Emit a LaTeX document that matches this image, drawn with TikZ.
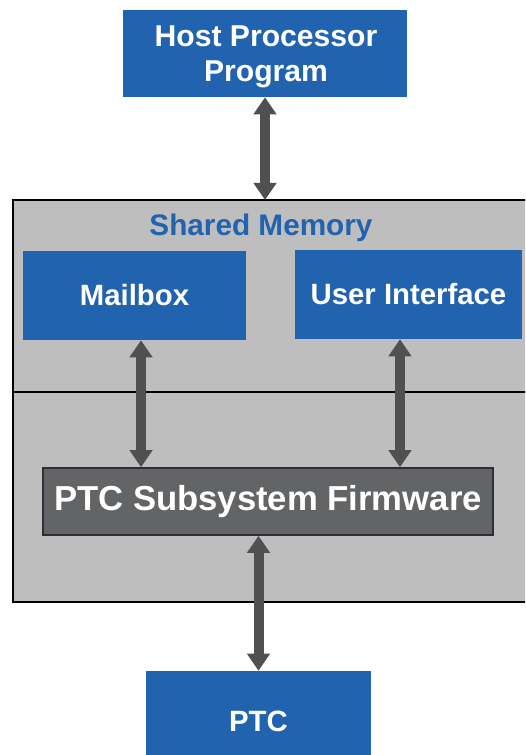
\documentclass[tikz,border=0pt]{standalone}
\usepackage{fontspec}
\setmainfont{Liberation Sans}
\usetikzlibrary{arrows.meta}
\definecolor{boxblue}{HTML}{2163AE}
\definecolor{memgray}{HTML}{BEBEBE}
\definecolor{fwgray}{HTML}{636466}
\definecolor{fwedge}{HTML}{2E2E38}
\definecolor{arrowgray}{HTML}{505050}
\tikzstyle{bluebox}=[fill=boxblue,text=white,inner sep=0pt,align=center,
font=\fontsize{22}{26}\selectfont\bfseries]
\tikzstyle{fwbox}=[fill=fwgray,draw=fwedge,line width=1.2pt,text=white,inner sep=0pt,
font=\fontsize{26}{30}\selectfont\bfseries]
\tikzstyle{arrow}=[{Triangle[width=16.5pt,length=12.75pt]}-{Triangle[width=16.5pt,length=12.75pt]},
line width=7.5pt,draw=arrowgray]

\begin{document}
\begin{tikzpicture}[x=.75pt,y=-.75pt]
	\useasboundingbox (0,0) rectangle (525,755);

	%shared memory block
	\begin{scope}
	\clip (0,0) rectangle (525,755);
	\draw[fill=memgray,line width=.8pt] (13,200) rectangle (530,602);
	\draw[line width=.8pt] (13,392) -- (530,392);
	\end{scope}
	\node[text=boxblue,font=\fontsize{22.3}{26}\selectfont\bfseries] (shared) at (261,228) {Shared Memory};
	\coordinate (memtop) at (265,200);

	%boxes
	\node[bluebox,minimum width=213pt,minimum height=65.25pt] (host) at (265,53.5) {};
	\node[bluebox,font=\fontsize{22.6}{26.5}\selectfont\bfseries] (hosttext) at (266,57) {Host Processor\\Program};
	\node[bluebox,minimum width=167.25pt,minimum height=66.75pt] (mail) at (134.5,295.5) {Mailbox};
	\node[bluebox,minimum width=170.25pt,minimum height=66.75pt] (ui) at (408.5,294.5) {User Interface};
	\node[fwbox,minimum width=337.5pt,minimum height=50.25pt] (fw) at (268,501.5) {PTC Subsystem Firmware};
	\begin{scope}
	\clip (0,0) rectangle (525,755);
	\node[bluebox,minimum width=168.75pt,minimum height=75pt] (ptc) at (258.5,721) {PTC};
	\end{scope}

	%arrows
	\draw[arrow] (host.south) -- (memtop);
	\draw[arrow] ([xshift=4.9pt]mail.south) -- ([xshift=4.9pt]mail.south |- fw.north);
	\draw[arrow] ([xshift=-6.4pt]ui.south) -- ([xshift=-6.4pt]ui.south |- fw.north);
	\draw[arrow] (fw.south -| ptc.north) -- (ptc.north);
\end{tikzpicture}
\end{document}
